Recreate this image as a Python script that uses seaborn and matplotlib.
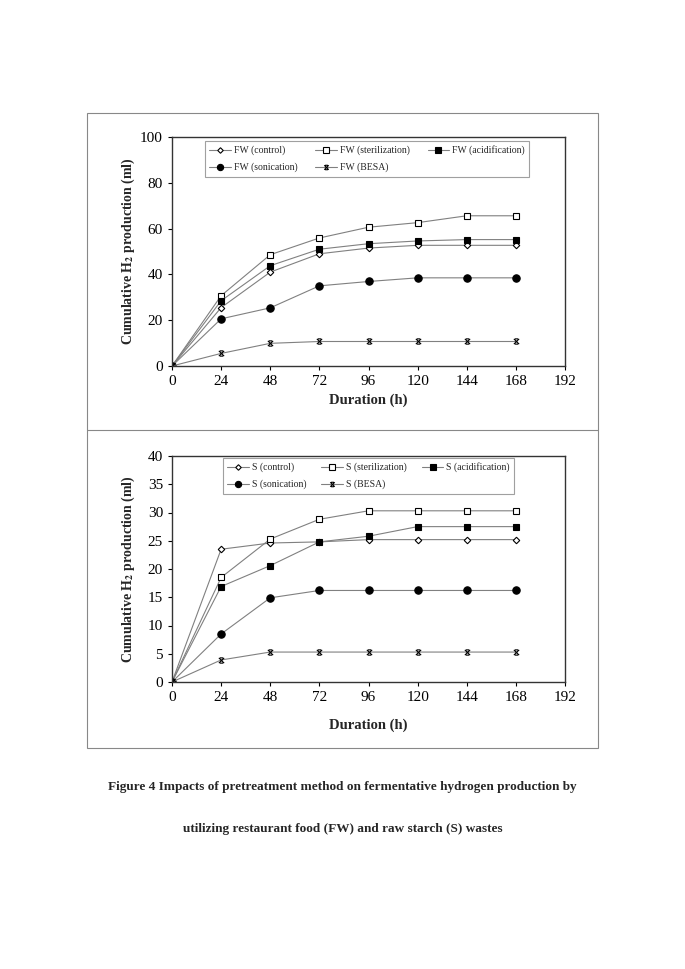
import numpy as np
import pandas as pd
import matplotlib
matplotlib.use("Agg")
import matplotlib.pyplot as plt
from matplotlib.path import Path
from matplotlib.patches import Rectangle
from matplotlib.lines import Line2D
import seaborn as sns

hours = [0, 24, 48, 72, 96, 120, 144, 168]
treatments = ["control", "sterilization", "acidification", "sonication", "BESA"]

# food waste (FW), ml
fw_control = [0, 25.5, 41.0, 49.0, 51.5, 52.7, 52.7, 52.7]
fw_steril = [0, 30.7, 48.6, 55.9, 60.6, 62.6, 65.6, 65.6]
fw_acid = [0, 28.5, 43.8, 51.0, 53.4, 54.6, 55.2, 55.2]
fw_sonic = [0, 20.6, 25.4, 35.0, 36.9, 38.5, 38.5, 38.5]
fw_besa = [0, 5.5, 9.9, 10.7, 10.7, 10.7, 10.7, 10.7]

# raw starch (S), ml
s_control = [0, 23.5, 24.6, 24.8, 25.2, 25.2, 25.2, 25.2]
s_steril = [0, 18.5, 25.3, 28.8, 30.3, 30.3, 30.3, 30.3]
s_acid = [0, 16.9, 20.6, 24.8, 25.8, 27.5, 27.5, 27.5]
s_sonic = [0, 8.5, 14.9, 16.2, 16.2, 16.2, 16.2, 16.2]
s_besa = [0, 3.9, 5.3, 5.3, 5.3, 5.3, 5.3, 5.3]

sns.set_style("white")
plt.rcParams['font.family'] = ['Liberation Serif', 'DejaVu Serif']
plt.rcParams['mathtext.fontset'] = 'stix'

# excel style star marker: an x with caps
star = Path([(-1, -1), (1, 1), (-1, 1), (1, -1), (-0.6, 1), (0.6, 1), (-0.6, -1), (0.6, -1)],
            [Path.MOVETO, Path.LINETO, Path.MOVETO, Path.LINETO,
             Path.MOVETO, Path.LINETO, Path.MOVETO, Path.LINETO])

styles = {
    "control": dict(marker="D", mfc="white", ms=3.3),
    "sterilization": dict(marker="s", mfc="white", ms=5),
    "acidification": dict(marker="s", mfc="black", ms=5),
    "sonication": dict(marker="o", mfc="black", ms=5.3),
    "BESA": dict(marker=star, mfc="none", ms=3.8),
}

fig = plt.figure(figsize=(6.85, 9.69), dpi=100)

# panel frame
fig.patches.append(Rectangle((87 / 685, 1 - 748 / 969), 511 / 685, 635 / 969,
                             transform=fig.transFigure, fill=False, ec="#888888", lw=0.8))
fig.add_artist(Line2D([87 / 685, 598 / 685], [1 - 430 / 969, 1 - 430 / 969],
                      transform=fig.transFigure, color="#888888", lw=0.8))


def draw_panel(ax, prefix, series, ymax, ystep, leg_box):
    for name, vals in zip(treatments, series):
        st = styles[name]
        sns.lineplot(x=hours, y=vals, ax=ax, color="#808080", lw=0.8,
                     marker=st["marker"], markersize=st["ms"],
                     markerfacecolor=st["mfc"], markeredgecolor="black",
                     markeredgewidth=0.8, label=f"{prefix} ({name})")
    ax.set_xlim(0, 192)
    ax.set_ylim(0, ymax)
    ax.set_xticks(np.arange(0, 193, 24))
    ax.set_yticks(np.arange(0, ymax + 0.1, ystep))
    ax.tick_params(axis="both", labelsize=11, direction="out", length=3, width=0.8,
                   left=True, bottom=True, colors="black")
    for sp in ax.spines.values():
        sp.set_color("#333333")
        sp.set_linewidth(1.0)
    ax.set_xlabel("Duration (h)", fontsize=10.5, fontweight="bold")
    ax.set_ylabel(r"Cumulative H$_\mathbf{2}$ production (ml)", fontsize=10, fontweight="bold")
    ax.grid(False)
    handles, labels = ax.get_legend_handles_labels()
    # reorder so the 3-column legend reads row by row
    order = [0, 3, 1, 4, 2]
    leg = ax.legend([handles[i] for i in order], [labels[i] for i in order],
                    ncol=3, loc="upper left", bbox_to_anchor=leg_box, bbox_transform=fig.transFigure,
                    mode="expand", fontsize=7, frameon=True, fancybox=False, edgecolor="#888888",
                    handlelength=2.2, handletextpad=0.3, borderpad=0.45, labelspacing=0.75,
                    columnspacing=1.0, markerscale=0.85, borderaxespad=0)
    leg.get_frame().set_linewidth(0.8)


ax1 = fig.add_axes([172 / 685, 1 - 366 / 969, 393 / 685, 229 / 969])
draw_panel(ax1, "FW", [fw_control, fw_steril, fw_acid, fw_sonic, fw_besa], 100, 20,
           (205 / 685, 1 - 178 / 969, 324 / 685, 37 / 969))
ax1.yaxis.set_label_coords(-0.09, 0.5)
ax1.xaxis.set_label_coords(0.5, -0.12)

ax2 = fig.add_axes([172 / 685, 1 - 682 / 969, 393 / 685, 226 / 969])
draw_panel(ax2, "S", [s_control, s_steril, s_acid, s_sonic, s_besa], 40, 5,
           (223 / 685, 1 - 500 / 969, 291 / 685, 42 / 969))
ax2.yaxis.set_label_coords(-0.09, 0.5)
ax2.xaxis.set_label_coords(0.5, -0.16)

fig.text(0.5, 1 - 787 / 969,
         "Figure 4 Impacts of pretreatment method on fermentative hydrogen production by",
         ha="center", va="center", fontsize=9.5, fontweight="bold")
fig.text(0.5, 1 - 829 / 969,
         "utilizing restaurant food (FW) and raw starch (S) wastes",
         ha="center", va="center", fontsize=9.5, fontweight="bold")

fig.savefig("out.png", dpi=100)
